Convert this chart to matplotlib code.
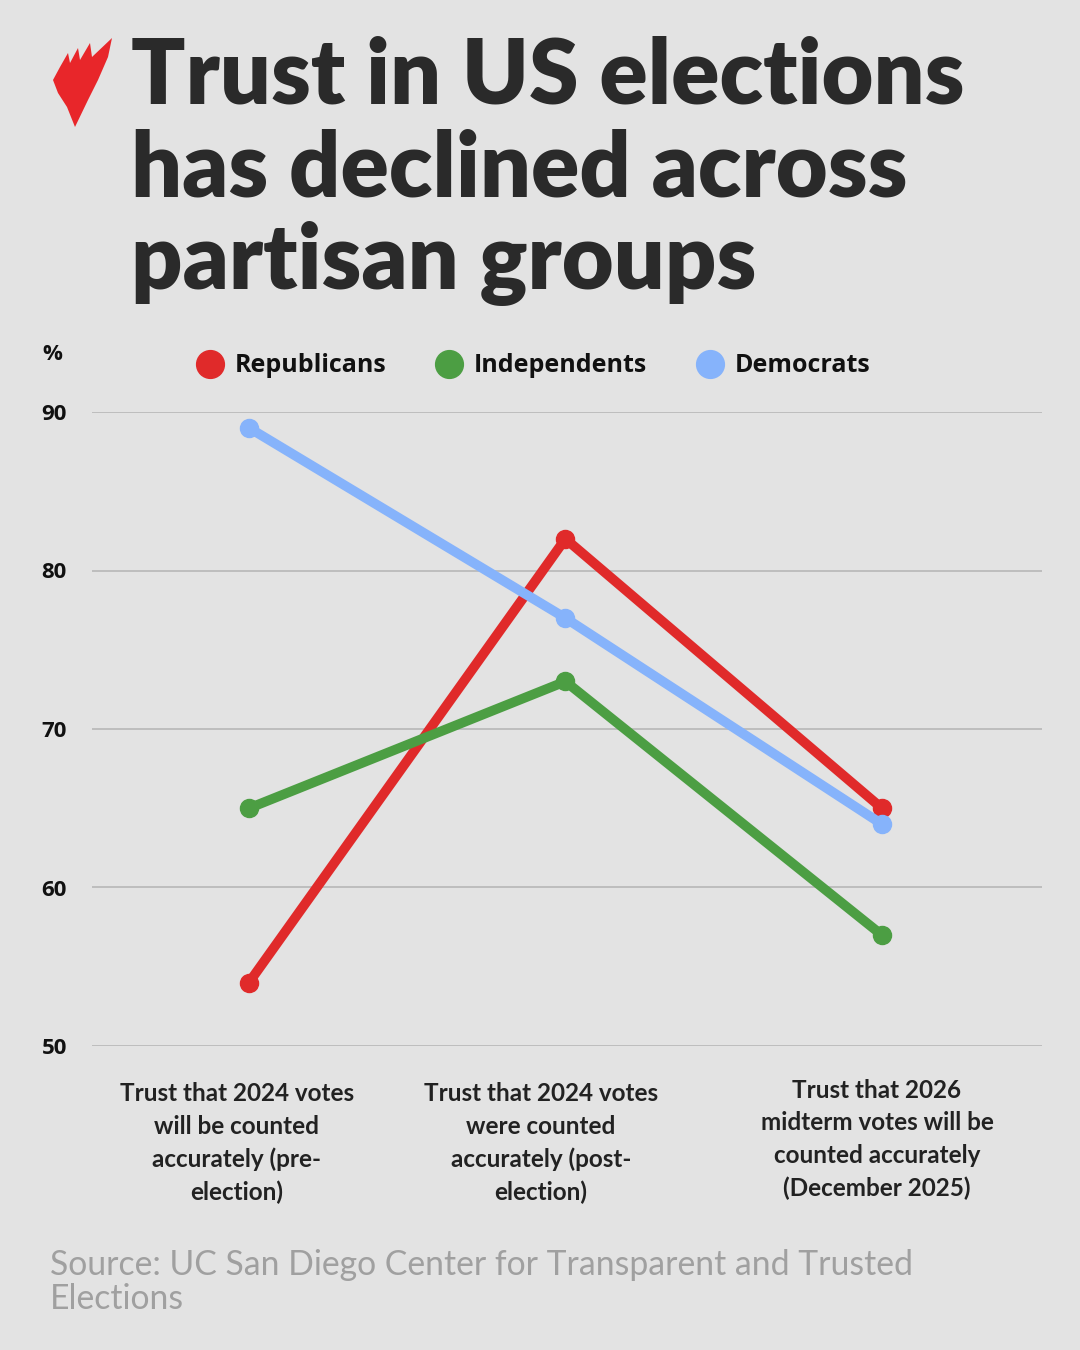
import matplotlib
matplotlib.use("Agg")
import matplotlib.pyplot as plt
from matplotlib.patches import Polygon
from matplotlib.lines import Line2D

categories = [
    "Trust that 2024 votes\nwill be counted\naccurately (pre-\nelection)",
    "Trust that 2024 votes\nwere counted\naccurately (post-\nelection)",
    "Trust that 2026\nmidterm votes will be\ncounted accurately\n(December 2025)",
]
series_names = ["Republicans", "Independents", "Democrats"]
republicans = [54, 82, 65]
independents = [65, 73, 57]
democrats = [89, 77, 64]
y_ticks = [50, 60, 70, 80, 90]

colors = {"Republicans": "#e02a2a", "Independents": "#4c9e43", "Democrats": "#86b3fb"}
BG = "#e3e3e3"
W, H = 1080, 1350

fig = plt.figure(figsize=(W / 100, H / 100), dpi=100, facecolor=BG)

def px(x, y):
    return (x / W, 1 - y / H)

ax = fig.add_axes([92 / W, 1 - 1046 / H, 950 / W, (1046 - 412) / H])
ax.set_facecolor(BG)
ax.set_xlim(-0.496, 2.506)
ax.set_ylim(50, 90)
for s in ax.spines.values():
    s.set_visible(False)
ax.set_yticks(y_ticks)
ax.set_yticklabels([str(t) for t in y_ticks], fontsize=16, fontweight="bold",
                   color="#111111", family="Open Sans")
ax.tick_params(axis="y", length=0, pad=18)
ax.set_xticks([])
ax.grid(axis="y", color="#b4b4b4", linewidth=1.1)
ax.set_axisbelow(True)

x = list(range(len(categories)))
for name, vals in zip(series_names, [republicans, independents, democrats]):
    ax.plot(x, vals, color=colors[name], linewidth=7, marker="o", markersize=13,
            solid_capstyle="round", clip_on=False, zorder=3)

# x labels
label_x = [237, 541, 877]
label_y = [1092, 1092, 1089]
for cx, cy, lab in zip(label_x, label_y, categories):
    fig.text(*px(cx, cy - 10), lab, ha="center", va="top", fontsize=17.5,
             fontweight="bold", family="Lato", color="#222222", linespacing=1.5)

# % label
fig.text(*px(52, 355), "%", ha="center", va="center", fontsize=16,
         fontweight="bold", family="Open Sans", color="#111111")

# legend
leg_items = [(210, "Republicans"), (449, "Independents"), (710, "Democrats")]
for lx, name in leg_items:
    fig.lines.append(Line2D([lx / W], [1 - 364 / H], marker="o", markersize=20,
                            color=colors[name], transform=fig.transFigure))
    fig.text(*px(lx + 25, 365), name, ha="left", va="center", fontsize=18,
             fontweight="bold", family="Open Sans", color="#111111")

# title
fig.text(*px(131, 35), "Trust in US elections\nhas declined across\npartisan groups",
         ha="left", va="top", fontsize=64.5, fontweight="heavy", family="Lato",
         color="#2a2a2a", linespacing=1.15)

# logo
logo_pts = [(75, 127), (67, 107), (58, 93), (53, 80), (60, 67), (68, 53), (70, 63),
            (78, 48), (80, 60), (90, 43), (92, 57), (112, 38), (108, 57), (98, 80),
            (88, 100)]
fig.patches.append(Polygon([px(a, b) for a, b in logo_pts], closed=True,
                           facecolor="#e8262a", edgecolor="none",
                           transform=fig.transFigure))

# source
fig.text(*px(50, 1249), "Source: UC San Diego Center for Transparent and Trusted\nElections",
         ha="left", va="top", fontsize=24.3, fontweight="normal", family="Lato",
         color="#a0a0a0", linespacing=1.06)

fig.savefig("out.png", dpi=100, facecolor=BG)
